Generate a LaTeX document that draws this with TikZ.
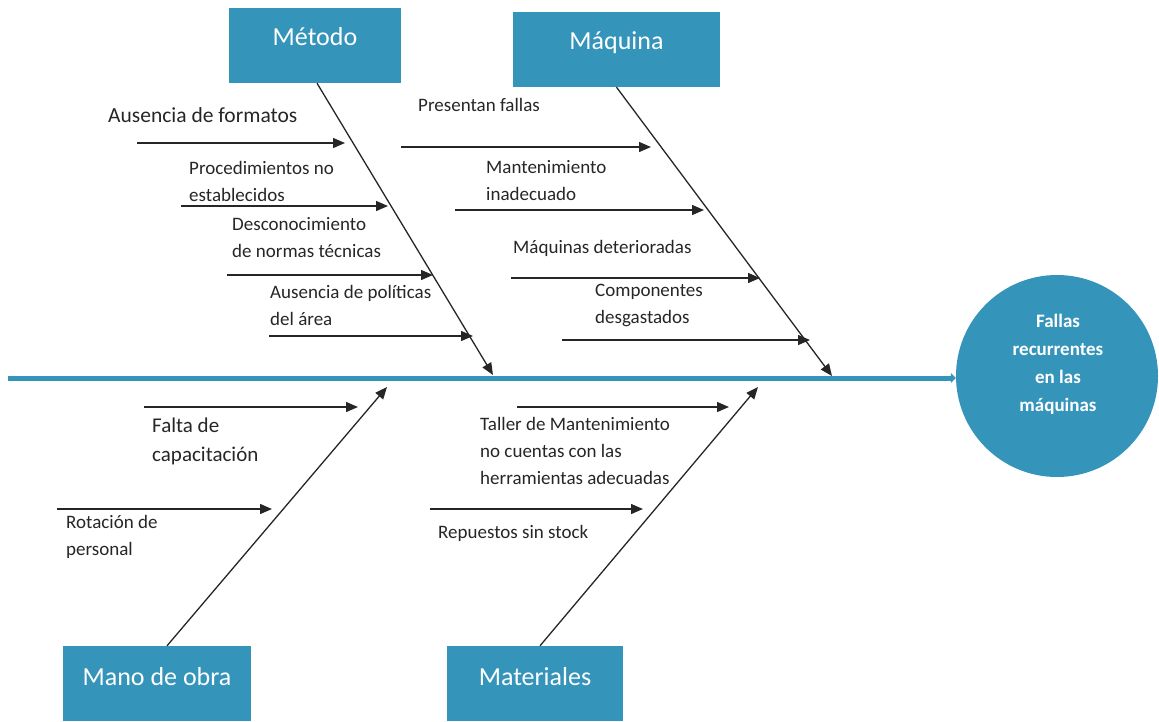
\documentclass[tikz,border=0pt]{standalone}
\usepackage{fontspec}
\setmainfont{Carlito}
\usetikzlibrary{arrows.meta}
\definecolor{cblue}{RGB}{52,148,186}
\definecolor{txt}{RGB}{38,38,38}
\tikzset{
  catbox/.style={fill=cblue, text=white, font=\fontsize{26}{30}\selectfont, inner sep=0pt},
  cause/.style={font=\fontsize{19}{27}\selectfont, align=left, anchor=west, inner sep=0pt, text=txt},
  bone/.style={draw=black!85, line width=1.3pt, -{Triangle[length=12pt,width=10pt]}},
  sub/.style={draw=black!85, line width=1.4pt, -{Triangle[length=12pt,width=10pt]}},
  spine/.style={draw=cblue, line width=5pt, -{Triangle[length=5pt,width=10pt]}},
  effect/.style={circle, fill=cblue, minimum size=202pt, inner sep=0pt},
  effecttext/.style={text=white, font=\bfseries\fontsize{19}{28}\selectfont, align=center, inner sep=0pt}
}
\begin{document}
\begin{tikzpicture}[x=1pt,y=-1pt]
\useasboundingbox (0,0) rectangle (1159,721);

% category boxes
\node[catbox, minimum width=172pt, text height=37pt, text depth=38pt] (metodo) at (315,45.5) {Método};
\node[catbox, minimum width=207pt, text height=37pt, text depth=38pt] (maquina) at (616.5,49.5) {Máquina};
\node[catbox, minimum width=188pt, text height=39pt, text depth=36pt] (mano) at (157,683.5) {Mano de obra};
\node[catbox, minimum width=176pt, text height=39pt, text depth=36pt] (mat) at (535,683.5) {Materiales};

% effect
\node[effect] (effect) at (1057,376) {};
\node[effecttext] (effectlbl) at (1058,364) {Fallas\\recurrentes\\en las\\máquinas};

% spine
\coordinate (spineL) at (8,378);
\draw[spine] (spineL) -- (spineL -| effect.west);

% main bones
\coordinate (mtip) at (493,375);
\coordinate (qtip) at (832,376);
\coordinate (otip) at (387,387);
\coordinate (ttip) at (758,387);
\draw[bone] ([xshift=2pt]metodo.south) -- (mtip);
\draw[bone] (maquina.south) -- (qtip);
\draw[bone] ([xshift=10pt]mano.north) -- (otip);
\draw[bone] ([xshift=5pt]mat.north) -- (ttip);

% Metodo causes
\coordinate (m1a) at (137,143); \coordinate (m1b) at (345,143);
\coordinate (m2a) at (181,206); \coordinate (m2b) at (388,206);
\coordinate (m3a) at (227,275); \coordinate (m3b) at (433,275);
\coordinate (m4a) at (269,336); \coordinate (m4b) at (473,336);
\draw[sub] (m1a) -- (m1b);
\draw[sub] (m2a) -- (m2b);
\draw[sub] (m3a) -- (m3b);
\draw[sub] (m4a) -- (m4b);
\node[cause, font=\fontsize{21.5}{27}\selectfont] (tm1) at (108,115) {Ausencia de formatos};
\node[cause] (tm2) at (189,181) {Procedimientos no\\establecidos};
\node[cause] (tm3) at (232,238) {Desconocimiento\\de normas técnicas};
\node[cause] (tm4) at (270,305) {Ausencia de políticas\\del área};

% Maquina causes
\coordinate (q1a) at (401,147); \coordinate (q1b) at (651,147);
\coordinate (q2a) at (455,210); \coordinate (q2b) at (704,210);
\coordinate (q3a) at (511,278); \coordinate (q3b) at (760,278);
\coordinate (q4a) at (562,340); \coordinate (q4b) at (810,340);
\draw[sub] (q1a) -- (q1b);
\draw[sub] (q2a) -- (q2b);
\draw[sub] (q3a) -- (q3b);
\draw[sub] (q4a) -- (q4b);
\node[cause] (tq1) at (418,105) {Presentan fallas};
\node[cause] (tq2) at (486,181) {Mantenimiento\\inadecuado};
\node[cause] (tq3) at (513,248) {Máquinas deterioradas};
\node[cause] (tq4) at (595,305) {Componentes\\desgastados};

% Mano de obra causes
\coordinate (o1a) at (144,407); \coordinate (o1b) at (358,407);
\coordinate (o2a) at (57,509); \coordinate (o2b) at (272,509);
\draw[sub] (o1a) -- (o1b);
\draw[sub] (o2a) -- (o2b);
\node[cause, font=\fontsize{21}{29}\selectfont] (to1) at (152,441) {Falta de\\capacitación};
\node[cause] (to2) at (66,537) {Rotación de\\personal};

% Materiales causes
\coordinate (t1a) at (517,407); \coordinate (t1b) at (729,407);
\coordinate (t2a) at (430,509); \coordinate (t2b) at (643,509);
\draw[sub] (t1a) -- (t1b);
\draw[sub] (t2a) -- (t2b);
\node[cause] (tt1) at (480,451) {Taller de Mantenimiento\\no cuentas con las\\herramientas adecuadas};
\node[cause] (tt2) at (438,533) {Repuestos sin stock};
\end{tikzpicture}
\end{document}
